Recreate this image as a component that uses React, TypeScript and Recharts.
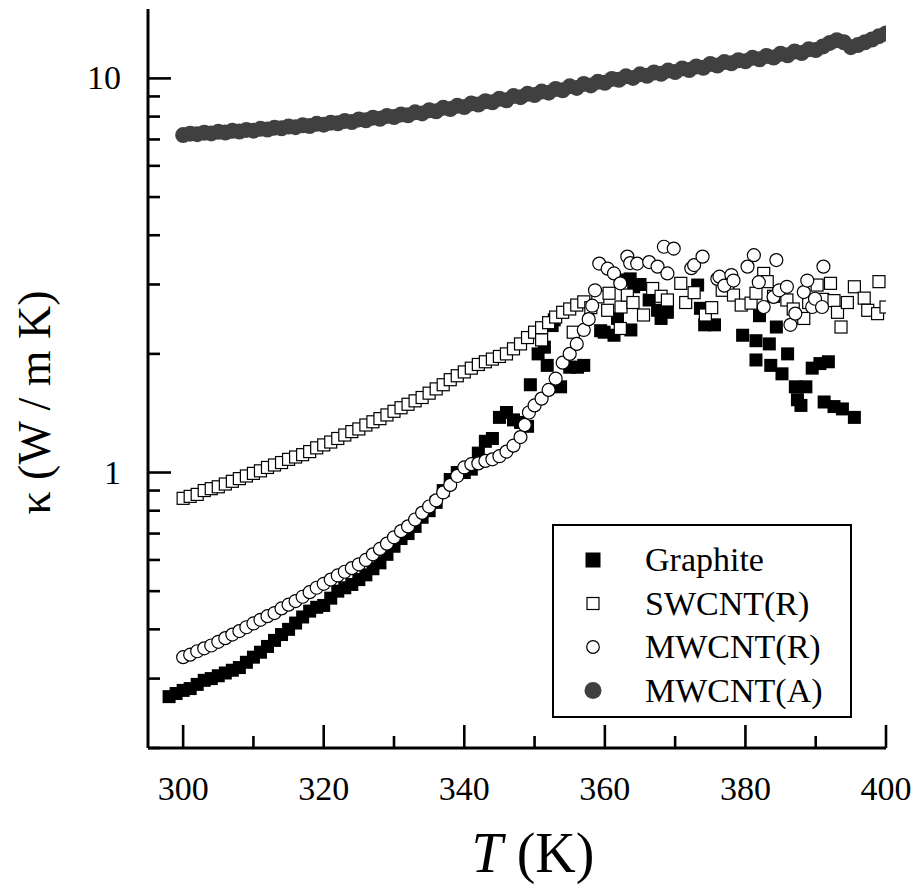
import React from 'react'
import { ScatterChart, Scatter, XAxis, YAxis, Legend, Label } from 'recharts'

// κ(T) for graphite and CNT samples, log scale. [T (K), κ (W/mK)]
const graphite: [number, number][] = [
  [298, 0.27], [299, 0.275], [300, 0.28], [301, 0.283], [302, 0.29], [303, 0.297], [304, 0.3],
  [305, 0.305], [306, 0.31], [307, 0.315], [308, 0.32], [309, 0.33], [310, 0.34], [311, 0.35],
  [312, 0.362], [313, 0.375], [314, 0.388], [315, 0.4], [316, 0.415], [317, 0.43], [318, 0.445],
  [319, 0.455], [320, 0.46], [321, 0.48], [322, 0.5], [323, 0.51], [324, 0.52], [325, 0.535],
  [326, 0.55], [327, 0.57], [328, 0.59], [329, 0.62], [330, 0.65], [331, 0.68], [332, 0.7],
  [333, 0.73], [334, 0.77], [335, 0.8], [336, 0.84], [337, 0.9], [338, 0.96], [339, 1.0],
  [340, 1.0], [341, 1.02], [342, 1.12], [343, 1.2], [344, 1.22], [345, 1.38], [346, 1.42],
  [347, 1.36], [348, 1.34], [349, 1.31],
  [349.4, 1.67], [350.5, 2.0], [351.4, 2.08], [351.8, 1.87], [352.5, 2.36], [352.8, 2.44],
  [353.7, 1.65], [355, 1.85], [356.1, 1.85], [357, 1.87], [359.4, 2.29], [359.9, 2.27],
  [361.3, 2.23], [361.8, 2.46], [362.2, 3.08], [363.6, 3.1], [363.7, 2.3], [364.1, 2.96],
  [365, 3.0], [366.3, 2.74], [367.5, 2.58], [368, 2.46], [368.9, 2.55], [373.2, 2.99],
  [373.6, 2.61], [374.2, 2.37], [375.6, 2.37], [379.6, 2.23], [381.5, 2.16], [381.5, 1.93],
  [382, 2.5], [383.4, 2.12], [383.6, 1.87], [384.4, 2.34], [385.2, 1.78], [386, 2.0],
  [387.1, 1.65], [387.4, 1.53], [387.9, 1.48], [388.6, 1.65], [389.5, 1.84], [390.6, 1.89],
  [391.2, 1.51], [391.8, 1.91], [392.6, 1.47], [393.8, 1.45], [395.5, 1.38],
]

const swcntR: [number, number][] = [
  [300, 0.86], [301, 0.87], [302, 0.88], [303, 0.9], [304, 0.91], [305, 0.92], [306, 0.935],
  [307, 0.95], [308, 0.965], [309, 0.98], [310, 0.995], [311, 1.01], [312, 1.03], [313, 1.045],
  [314, 1.06], [315, 1.08], [316, 1.095], [317, 1.11], [318, 1.13], [319, 1.155], [320, 1.175],
  [321, 1.195], [322, 1.22], [323, 1.245], [324, 1.27], [325, 1.29], [326, 1.32], [327, 1.345],
  [328, 1.37], [329, 1.4], [330, 1.43], [331, 1.46], [332, 1.49], [333, 1.52], [334, 1.55],
  [335, 1.59], [336, 1.63], [337, 1.67], [338, 1.72], [339, 1.76], [340, 1.8], [341, 1.84],
  [342, 1.88], [343, 1.91], [344, 1.94], [345, 1.97], [346, 2.0], [347, 2.06], [348, 2.12],
  [349, 2.2], [350, 2.27], [351, 2.33], [352, 2.4], [353, 2.48], [354, 2.55], [355, 2.6],
  [356, 2.66], [357, 2.71],
  [351, 2.17], [355.5, 2.27], [358, 2.62], [359, 2.79], [360.4, 2.58], [360.6, 2.85],
  [362.2, 2.32], [362.3, 2.63], [363.2, 2.82], [364, 2.7], [365.5, 2.51], [366.8, 2.93],
  [368, 2.8], [368.9, 2.74], [370.8, 3.02], [371.5, 2.7], [372.7, 2.86], [374.3, 2.51],
  [375.2, 2.62], [376.7, 2.9], [377.5, 3.0], [378.3, 2.82], [379.4, 2.66], [380.8, 2.69],
  [381.5, 2.85], [382.6, 3.2], [383.1, 3.05], [384, 2.8], [385.9, 2.74], [386.8, 2.6],
  [388.3, 2.46], [389, 2.7], [390.2, 2.99], [391, 2.75], [392.1, 3.02], [392.6, 2.73],
  [393.1, 2.55], [393.6, 2.34], [394.5, 2.7], [395.5, 2.96], [396.9, 2.77], [397.4, 2.58],
  [398.8, 2.53], [399, 3.05], [400, 2.63],
]

const mwcntR: [number, number][] = [
  [300, 0.34], [301, 0.345], [302, 0.352], [303, 0.358], [304, 0.364], [305, 0.372], [306, 0.38],
  [307, 0.388], [308, 0.396], [309, 0.405], [310, 0.414], [311, 0.423], [312, 0.432], [313, 0.44],
  [314, 0.452], [315, 0.462], [316, 0.472], [317, 0.484], [318, 0.497], [319, 0.51], [320, 0.522],
  [321, 0.535], [322, 0.548], [323, 0.56], [324, 0.572], [325, 0.585], [326, 0.6], [327, 0.62],
  [328, 0.64], [329, 0.66], [330, 0.685], [331, 0.71], [332, 0.73], [333, 0.76], [334, 0.79],
  [335, 0.82], [336, 0.85], [337, 0.89], [338, 0.93], [339, 0.98], [340, 1.03], [341, 1.05],
  [342, 1.055], [343, 1.07], [344, 1.08], [345, 1.1], [346, 1.13], [347, 1.17], [348, 1.23],
  [348.6, 1.32], [349.2, 1.42], [350, 1.48], [351, 1.54], [352, 1.62], [353, 1.73], [354, 1.9],
  [355, 2.0], [356, 2.12], [357, 2.3], [357.7, 2.45], [358.2, 2.65], [358.6, 2.9], [359.2, 3.39],
  [360.4, 3.29], [361.3, 3.2], [362.2, 3.02], [363.2, 3.53], [363.6, 3.4], [364.6, 3.39],
  [366.3, 3.42], [367.5, 3.33], [368.4, 3.74], [368.9, 3.2], [369.8, 3.7], [372.3, 3.3],
  [372.7, 3.36], [373.9, 3.53], [376, 3.1], [376.3, 3.14], [377, 2.98], [378, 3.17],
  [378.3, 3.07], [380.3, 3.33], [381.2, 3.56], [381.9, 3.04], [382.6, 2.63], [384, 2.79],
  [384.4, 3.46], [384.8, 2.9], [385.9, 2.96], [386.4, 2.37], [387.1, 2.53], [388.3, 2.87],
  [388.8, 3.07], [389.5, 2.63], [389.9, 2.76], [390.9, 2.63], [391.1, 3.33],
]

const mwcntA: [number, number][] = [
  [300, 7.18], [301, 7.24], [302, 7.22], [303, 7.28], [304, 7.25], [305, 7.32], [306, 7.29],
  [307, 7.36], [308, 7.33], [309, 7.4], [310, 7.37], [311, 7.45], [312, 7.42], [313, 7.5],
  [314, 7.47], [315, 7.55], [316, 7.52], [317, 7.6], [318, 7.57], [319, 7.67], [320, 7.63],
  [321, 7.72], [322, 7.69], [323, 7.8], [324, 7.75], [325, 7.87], [326, 7.83], [327, 7.95],
  [328, 7.9], [329, 8.03], [330, 7.98], [331, 8.1], [332, 8.06], [333, 8.2], [334, 8.15],
  [335, 8.3], [336, 8.25], [337, 8.42], [338, 8.36], [339, 8.52], [340, 8.46], [341, 8.64],
  [342, 8.58], [343, 8.75], [344, 8.7], [345, 8.88], [346, 8.8], [347, 9.02], [348, 8.96],
  [349, 9.14], [350, 9.07], [351, 9.26], [352, 9.2], [353, 9.4], [354, 9.33], [355, 9.55],
  [356, 9.46], [357, 9.68], [358, 9.6], [359, 9.8], [360, 9.75], [361, 9.97], [362, 9.92],
  [363, 10.12], [364, 10.03], [365, 10.24], [366, 10.15], [367, 10.35], [368, 10.27],
  [369, 10.47], [370, 10.38], [371, 10.6], [372, 10.5], [373, 10.72], [374, 10.64],
  [375, 10.88], [376, 10.78], [377, 11.0], [378, 10.92], [379, 11.12], [380, 11.05],
  [381, 11.28], [382, 11.18], [383, 11.4], [384, 11.3], [385, 11.55], [386, 11.45],
  [387, 11.7], [388, 11.6], [389, 11.85], [390, 11.8], [391, 12.05], [392, 12.3],
  [393, 12.5], [394, 12.35], [395, 12.0], [396, 12.15], [397, 12.35], [398, 12.55],
  [399, 12.8], [400, 13.0],
]

const xTicks = [300, 310, 320, 330, 340, 350, 360, 370, 380, 390, 400]
const xLabels = [300, 320, 340, 360, 380, 400]
const yTicks = [0.2, 0.3, 0.4, 0.5, 0.6, 0.7, 0.8, 0.9, 1, 2, 3, 4, 5, 6, 7, 8, 9, 10]
const yLabels = [1, 10]

const FONT = 'Liberation Serif, Times New Roman, Times, DejaVu Serif, serif'
const GREY = '#404040'

const toPts = (rows: [number, number][]) => rows.map(([T, k]) => ({ T, k }))

// markers
const FilledSquare = (p: any) => (
  <rect x={p.cx - 6.5} y={p.cy - 6.5} width={13} height={13} fill="#000" />
)
const OpenSquare = (p: any) => (
  <rect x={p.cx - 6} y={p.cy - 6} width={12} height={12} fill="#fff" stroke="#000" strokeWidth={1.2} />
)
const OpenCircle = (p: any) => (
  <circle cx={p.cx} cy={p.cy} r={6.5} fill="#fff" stroke="#000" strokeWidth={1.2} />
)
const GreyDot = (p: any) => <circle cx={p.cx} cy={p.cy} r={8} fill={GREY} />

const legendRows = [
  { name: 'Graphite', kind: 'fsq' },
  { name: 'SWCNT(R)', kind: 'osq' },
  { name: 'MWCNT(R)', kind: 'oc' },
  { name: 'MWCNT(A)', kind: 'gc' },
]

const txt = { fontFamily: FONT, fill: '#000' }

function LegendBox() {
  return (
    <div style={{ width: 300, height: 194, border: '2px solid #000', boxSizing: 'border-box', background: '#fff' }}>
      <svg width={296} height={190} style={{ display: 'block' }}>
        {legendRows.map((r, i) => {
          const cy = 34 + i * 43.5
          const cx = 39
          return (
            <g key={r.name}>
              {r.kind === 'fsq' && <rect x={cx - 7.5} y={cy - 7.5} width={15} height={15} fill="#000" />}
              {r.kind === 'osq' && <rect x={cx - 6} y={cy - 6} width={12} height={12} fill="#fff" stroke="#000" strokeWidth={1.2} />}
              {r.kind === 'oc' && <circle cx={cx} cy={cy} r={6.3} fill="#fff" stroke="#000" strokeWidth={1.2} />}
              {r.kind === 'gc' && <circle cx={cx} cy={cy} r={8.5} fill={GREY} />}
              <text x={91} y={cy + 11} fontSize={34} style={txt}>
                {r.name}
              </text>
            </g>
          )
        })}
      </svg>
    </div>
  )
}

function XTick(props: any) {
  const { x, y, payload, side } = props
  const v = payload.value
  const major = xLabels.includes(v)
  const len = major ? 23 : 12
  const dir = side === 'bottom' ? -1 : 1
  return (
    <g>
      <line x1={x} x2={x} y1={y} y2={y + dir * len} stroke="#000" strokeWidth={2.6} />
      {side === 'bottom' && major && (
        <text x={x} y={y + 52} textAnchor="middle" fontSize={34} style={txt}>
          {v}
        </text>
      )}
    </g>
  )
}

function YTick(props: any) {
  const { x, y, payload, side } = props
  const v = payload.value
  const major = yLabels.includes(v)
  const len = major ? 23 : 12
  const dir = side === 'left' ? 1 : -1
  return (
    <g>
      <line x1={x} x2={x + dir * len} y1={y} y2={y} stroke="#000" strokeWidth={2.6} />
      {side === 'left' && major && (
        <text x={x - 27} y={y + 11} textAnchor="end" fontSize={34} style={txt}>
          {v}
        </text>
      )}
    </g>
  )
}

const axisLine = { stroke: '#000', strokeWidth: 3 }

export default function App() {
  return (
    <div style={{ position: 'absolute', left: 0, top: 0, background: '#fff' }}>
      <ScatterChart width={914} height={887} margin={{ top: 9, right: 28, bottom: 0, left: 0 }}>
        <XAxis
          xAxisId="b"
          dataKey="T"
          type="number"
          domain={[295, 400]}
          allowDataOverflow
          ticks={xTicks}
          interval={0}
          height={139}
          tickSize={0}
          tickMargin={0}
          tickLine={false}
          axisLine={axisLine}
          tick={(p: any) => <XTick {...p} side="bottom" />}
        >
          <Label
            content={(p: any) => {
              const vb = p.viewBox
              return (
                <text x={vb.x + vb.width / 2 + 16} y={vb.y + 124} textAnchor="middle" fontSize={56} style={txt}>
                  <tspan fontStyle="italic">T</tspan>
                  <tspan> (K)</tspan>
                </text>
              )
            }}
          />
        </XAxis>
        <XAxis
          xAxisId="t"
          orientation="top"
          dataKey="T"
          type="number"
          domain={[295, 400]}
          allowDataOverflow
          ticks={xTicks}
          interval={0}
          height={0}
          tickSize={0}
          tickMargin={0}
          tickLine={false}
          axisLine={axisLine}
          tick={(p: any) => <XTick {...p} side="top" />}
        />
        <YAxis
          yAxisId="l"
          dataKey="k"
          type="number"
          scale="log"
          domain={[0.2, 15]}
          allowDataOverflow
          ticks={yTicks}
          interval={0}
          width={148}
          tickSize={0}
          tickMargin={0}
          tickLine={false}
          axisLine={axisLine}
          tick={(p: any) => <YTick {...p} side="left" />}
        >
          <Label
            content={(p: any) => {
              const vb = p.viewBox
              const cx = 50
              const cy = vb.y + vb.height / 2 + 24
              return (
                <text x={cx} y={cy} transform={`rotate(-90, ${cx}, ${cy})`} textAnchor="middle" fontSize={46} style={txt}>
                  κ (W / m K)
                </text>
              )
            }}
          />
        </YAxis>
        <YAxis
          yAxisId="r"
          orientation="right"
          dataKey="k"
          type="number"
          scale="log"
          domain={[0.2, 15]}
          allowDataOverflow
          ticks={yTicks}
          interval={0}
          width={0}
          tickSize={0}
          tickMargin={0}
          tickLine={false}
          axisLine={axisLine}
          tick={(p: any) => <YTick {...p} side="right" />}
        />
        <Legend
          layout="vertical"
          align="center"
          verticalAlign="middle"
          content={() => <LegendBox />}
          wrapperStyle={{ left: 552, top: 524, width: 300, height: 194 }}
        />
        <Scatter name="Graphite" xAxisId="b" yAxisId="l" data={toPts(graphite)} shape={FilledSquare} isAnimationActive={false} />
        <Scatter name="SWCNT(R)" xAxisId="b" yAxisId="l" data={toPts(swcntR)} shape={OpenSquare} isAnimationActive={false} />
        <Scatter name="MWCNT(R)" xAxisId="b" yAxisId="l" data={toPts(mwcntR)} shape={OpenCircle} isAnimationActive={false} />
        <Scatter name="MWCNT(A)" xAxisId="t" yAxisId="r" data={toPts(mwcntA)} shape={GreyDot} isAnimationActive={false} />
      </ScatterChart>
    </div>
  )
}
